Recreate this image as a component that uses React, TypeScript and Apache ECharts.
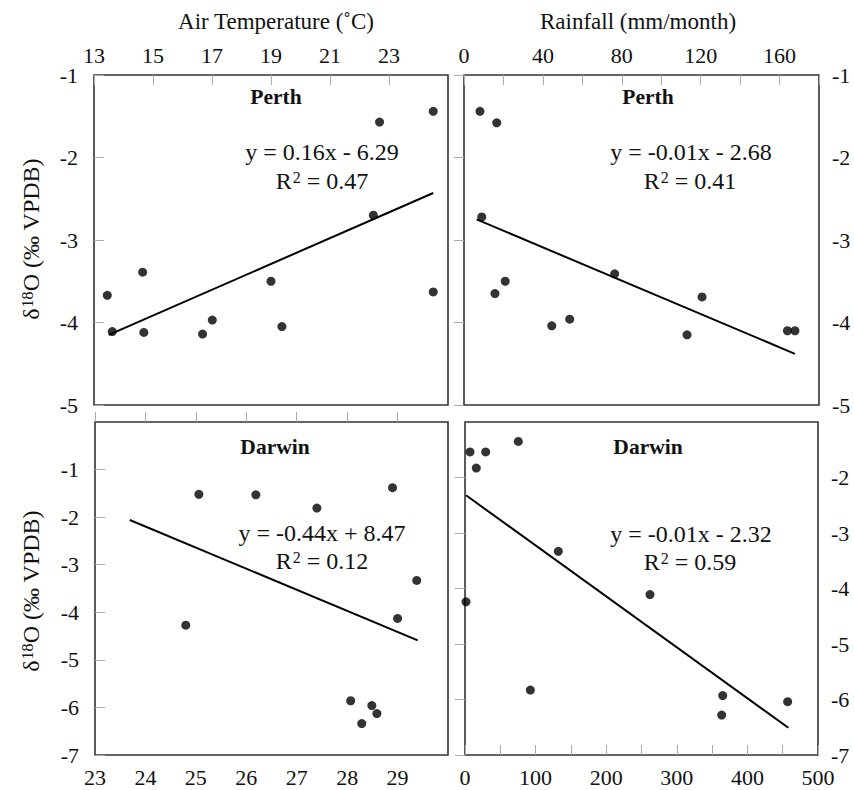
import React, { useEffect, useRef } from "react";
import * as echarts from "echarts";

// ---- data ----
const tempPerth = [24.5, 22.68, 22.47, 24.5, 14.65, 13.45, 13.62, 14.69, 16.68, 17.01, 19.0, 19.37];
const d18oPerthT = [-1.44, -1.57, -2.7, -3.63, -3.39, -3.67, -4.11, -4.12, -4.14, -3.97, -3.5, -4.05];

const rainPerth = [8.1, 16.6, 9.0, 15.7, 20.9, 44.5, 53.6, 76.4, 113.1, 120.7, 164, 167.8];
const d18oPerthR = [-1.44, -1.58, -2.72, -3.65, -3.5, -4.04, -3.96, -3.41, -4.15, -3.69, -4.1, -4.1];

const tempDarwin = [25.06, 26.19, 27.4, 28.9, 29.38, 29.0, 24.8, 28.07, 28.49, 28.59, 28.29];
const d18oDarwinT = [-1.52, -1.53, -1.81, -1.38, -3.33, -4.13, -4.27, -5.86, -5.96, -6.13, -6.34];

const rainDarwin = [7.1, 29.3, 16.0, 75.5, 132.2, 1.4, 92.5, 262, 365, 363.6, 457];
const d18oDarwinR = [-1.54, -1.54, -1.83, -1.35, -3.33, -4.24, -5.83, -4.11, -5.93, -6.28, -6.04];

// trend line end points [x0, y0, x1, y1]
const trendPerthT = [13.5, -4.15, 24.5, -2.43];
const trendPerthR = [6.4, -2.75, 167.8, -4.38];
const trendDarwinT = [23.69, -2.06, 29.4, -4.59];
const trendDarwinR = [1.4, -2.32, 458, -6.51];

const equations = ["y = 0.16x - 6.29", "y = -0.01x - 2.68", "y = -0.44x + 8.47", "y = -0.01x - 2.32"];
const r2Values = ["0.47", "0.41", "0.12", "0.59"];
const stations = ["Perth", "Perth", "Darwin", "Darwin"];

const FONT = "Liberation Serif";

function pairs(xs: number[], ys: number[]) {
  return xs.map((x, i) => [x, ys[i]]);
}

export default function App() {
  const ref = useRef<HTMLDivElement>(null);
  useEffect(() => {
    if (!ref.current) return;
    const chart = echarts.init(ref.current, null, { renderer: "svg" });

    const labelStyle = { fontFamily: FONT, fontSize: 22, color: "#111" };
    const tick = { show: true, inside: true, length: 10, lineStyle: { color: "#aaa", width: 1 } };

    const grids = [
      { left: 94, top: 75, width: 354, height: 330 },
      { left: 464, top: 75, width: 355, height: 330 },
      { left: 95, top: 422, width: 353, height: 333 },
      { left: 465, top: 422, width: 353, height: 333 },
    ].map((g) => ({ ...g, show: true, borderColor: "#333", borderWidth: 1.6, backgroundColor: "#fff" }));

    const xAxis = [
      { gridIndex: 0, type: "value", position: "top", min: 13, max: 25, interval: 2,
        axisLine: { show: false }, splitLine: { show: false }, axisTick: tick,
        axisLabel: { ...labelStyle, margin: 9, showMaxLabel: false } },
      { gridIndex: 1, type: "value", position: "top", min: 0, max: 180, interval: 20,
        axisLine: { show: false }, splitLine: { show: false }, axisTick: tick,
        axisLabel: { ...labelStyle, margin: 9, formatter: (v: number) => (v % 40 === 0 && v < 180 ? String(v) : "") } },
      { gridIndex: 2, type: "value", position: "bottom", min: 23, max: 30, interval: 1,
        axisLine: { show: false }, splitLine: { show: false }, axisTick: tick,
        axisLabel: { ...labelStyle, margin: 11, showMaxLabel: false } },
      { gridIndex: 3, type: "value", position: "bottom", min: 0, max: 500, interval: 50,
        axisLine: { show: false }, splitLine: { show: false }, axisTick: tick,
        axisLabel: { ...labelStyle, margin: 11, formatter: (v: number) => (v % 100 === 0 ? String(v) : "") } },
    ];
    const yAxis = [
      { gridIndex: 0, type: "value", position: "left", min: -5, max: -1, interval: 1,
        axisLine: { show: false }, splitLine: { show: false }, axisTick: tick,
        axisLabel: { ...labelStyle, margin: 16 } },
      { gridIndex: 1, type: "value", position: "right", min: -5, max: -1, interval: 1,
        axisLine: { show: false }, splitLine: { show: false }, axisTick: tick,
        axisLabel: { ...labelStyle, margin: 13 } },
      { gridIndex: 2, type: "value", position: "left", min: -7, max: 0, interval: 1,
        axisLine: { show: false }, splitLine: { show: false }, axisTick: tick,
        axisLabel: { ...labelStyle, margin: 16, showMaxLabel: false } },
      { gridIndex: 3, type: "value", position: "right", min: -7, max: -1, interval: 1,
        axisLine: { show: false }, splitLine: { show: false }, axisTick: tick,
        axisLabel: { ...labelStyle, margin: 13, showMaxLabel: false } },
    ];

    const scatterData = [
      pairs(tempPerth, d18oPerthT),
      pairs(rainPerth, d18oPerthR),
      pairs(tempDarwin, d18oDarwinT),
      pairs(rainDarwin, d18oDarwinR),
    ];
    const trends = [trendPerthT, trendPerthR, trendDarwinT, trendDarwinR];

    const series: any[] = [];
    for (let i = 0; i < 4; i++) {
      const t = trends[i];
      series.push({
        type: "line", xAxisIndex: i, yAxisIndex: i, data: [[t[0], t[1]], [t[2], t[3]]],
        showSymbol: false, symbol: "none", lineStyle: { color: "#000", width: 2 }, z: 3,
      });
      series.push({
        type: "scatter", xAxisIndex: i, yAxisIndex: i, data: scatterData[i],
        symbol: "circle", symbolSize: 9, itemStyle: { color: "#000" }, z: 4,
      });
    }

    const richEq = {
      n: { fontFamily: FONT, fontSize: 24, fill: "#111", color: "#111" },
      s: { fontFamily: FONT, fontSize: 16, fill: "#111", color: "#111", verticalAlign: "top", padding: [0, 0, 0, 1] },
    };
    const richTitle = {
      n: { fontFamily: FONT, fontSize: 24, fill: "#111", color: "#111" },
      s: { fontFamily: FONT, fontSize: 16, fill: "#111", color: "#111", verticalAlign: "top", padding: [0, 0, 0, 1] },
    };

    const txt = (x: number, y: number, text: string, extra: any = {}) => ({
      type: "text", x, y, z: 10,
      style: { text, fontFamily: FONT, fontSize: 23, fill: "#111",
        align: "center", verticalAlign: "middle", textAlign: "center", textVerticalAlign: "middle", ...extra },
    });

    const stationPos = [[276, 97], [648, 97], [275, 447], [648, 447]];
    const eqPos = [[322, 152], [691, 152], [322, 533], [691, 534]];
    const r2Pos = [[322, 181], [690, 181], [322, 561], [690, 562]];

    const graphics: any[] = [
      txt(276, 21, "Air Temperature (˚C)"),
      txt(638, 21, "Rainfall (mm/month)"),
    ];
    for (let i = 0; i < 4; i++) {
      graphics.push(txt(stationPos[i][0], stationPos[i][1], stations[i], { fontWeight: "bold", fontSize: 21.5 }));
      graphics.push(txt(eqPos[i][0], eqPos[i][1], equations[i], { fontSize: 24 }));
      graphics.push(txt(r2Pos[i][0], r2Pos[i][1], "{n|R}{s|2}{n| = " + r2Values[i] + "}", { rich: richEq }));
    }
    const yTitle = "{n|δ}{s|18}{n|O (‰ VPDB)}";
    graphics.push({ ...txt(31, 239, yTitle, { rich: richTitle }), rotation: Math.PI / 2 });
    graphics.push({ ...txt(31, 591, yTitle, { rich: richTitle }), rotation: Math.PI / 2 });

    chart.setOption({
      animation: false,
      backgroundColor: "#fff",
      grid: grids,
      xAxis,
      yAxis,
      series,
      graphic: graphics,
    } as any);

    return () => chart.dispose();
  }, []);

  return <div ref={ref} style={{ position: "fixed", left: 0, top: 0, width: 854, height: 790, background: "#fff" }} />;
}
